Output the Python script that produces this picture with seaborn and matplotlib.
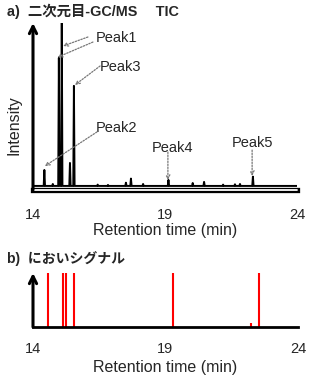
import matplotlib
matplotlib.use("Agg")
import matplotlib.pyplot as plt
import seaborn as sns
import pandas as pd

sns.set_theme(style="white")
plt.rcParams['font.family'] = ['Liberation Sans', 'Noto Sans CJK JP']

# ---- data ----
peak_times = [14.43, 14.75, 14.98, 15.09, 15.40, 15.55, 16.45, 16.84, 17.52, 17.71,
              18.17, 19.13, 20.05, 20.48, 21.20, 21.65, 21.84, 22.33]
peak_heights = [0.098, 0.012, 0.786, 1.0, 0.141, 0.614, 0.008, 0.006, 0.02, 0.045,
                0.012, 0.037, 0.018, 0.025, 0.008, 0.01, 0.012, 0.057]
odor_times = [14.58, 15.12, 15.23, 15.55, 19.29, 22.23, 22.53]
odor_strength = [1.0, 1.0, 1.0, 1.0, 1.0, 0.08, 1.0]
x_ticks = [14, 19, 24]
peak_names = ["Peak1", "Peak2", "Peak3", "Peak4", "Peak5"]

# build chromatogram trace from the peak list
half_w = 0.025
xs, ys = [14.0], [0.0]
for t, h in zip(peak_times, peak_heights):
    xs += [t - half_w, t, t + half_w]
    ys += [0.0, h, 0.0]
xs.append(24.0)
ys.append(0.0)
trace = pd.DataFrame({"time": xs, "intensity": ys})

W, H = 322, 380
fig = plt.figure(figsize=(W / 100, H / 100), dpi=100)

def px_axes(l, t, r, b):
    return fig.add_axes([l / W, 1 - b / H, (r - l) / W, (b - t) / H])

# ---- panel a ----
ax1 = px_axes(33, 23, 297, 190)
sns.lineplot(data=trace, x="time", y="intensity", ax=ax1, color="black",
             lw=1.4, sort=False, estimator=None)
ax1.set_xlim(14, 24)
ax1.set_ylim(-0.025, 1.0)
ax1.set_yticks([])
ax1.set_xticks(x_ticks)
ax1.set_xticklabels([str(t) for t in x_ticks], fontsize=10.5)
ax1.tick_params(axis="x", direction="in", length=3, width=1.5, pad=13, color="black")
ax1.set_xlabel("Retention time (min)", fontsize=11.5, labelpad=1)
ax1.set_ylabel("Intensity", fontsize=11.5)
ax1.yaxis.set_label_coords(-0.042, 0.39)
for s in ["top", "right", "left"]:
    ax1.spines[s].set_visible(False)
ax1.spines["bottom"].set_linewidth(3.8)
ax1.spines["bottom"].set_color("black")
ax1.axhline(-0.025, color="white", lw=1.3, zorder=3, clip_on=False)
ax1.annotate("", xy=(0, 1.0), xytext=(0, 0), xycoords="axes fraction",
             arrowprops=dict(arrowstyle="->", lw=2.2, color="black", mutation_scale=13,
                             shrinkA=0, shrinkB=0))

arr = dict(arrowstyle="->", linestyle=(0, (1.2, 1.2)), color="#777777", lw=0.9,
           shrinkA=0, shrinkB=0, mutation_scale=7)
# labels
ax1.text(17.18, 0.908, peak_names[0], fontsize=10.5, ha="center", va="center")
ax1.text(17.33, 0.73, peak_names[2], fontsize=10.5, ha="center", va="center")
ax1.text(17.18, 0.356, peak_names[1], fontsize=10.5, ha="center", va="center")
ax1.text(19.27, 0.233, peak_names[3], fontsize=10.5, ha="center", va="center")
ax1.text(22.30, 0.263, peak_names[4], fontsize=10.5, ha="center", va="center")
# arrows
ax1.annotate("", xy=(15.14, 0.859), xytext=(16.08, 0.914), arrowprops=arr)
ax1.annotate("", xy=(14.93, 0.79), xytext=(16.27, 0.883), arrowprops=arr)
ax1.annotate("", xy=(15.59, 0.62), xytext=(16.54, 0.736), arrowprops=arr)
ax1.annotate("", xy=(14.45, 0.122), xytext=(16.42, 0.331), arrowprops=arr)
ax1.annotate("", xy=(19.11, 0.036), xytext=(19.11, 0.208), arrowprops=arr)
ax1.annotate("", xy=(22.30, 0.061), xytext=(22.30, 0.22), arrowprops=arr)

fig.text(7 / W, 1 - 11 / H, "a)  二次元目-GC/MS　 TIC", fontsize=10.4,
         fontweight="bold", va="center", ha="left")

# ---- panel b ----
ax2 = px_axes(33, 273, 298, 327)
ax2.vlines(odor_times, 0, odor_strength, color="red", lw=1.5)
ax2.set_xlim(14, 24)
ax2.set_ylim(0, 1)
ax2.set_yticks([])
ax2.set_xticks(x_ticks)
ax2.set_xticklabels([str(t) for t in x_ticks], fontsize=10.5)
ax2.tick_params(axis="x", direction="in", length=4, width=2, pad=11, color="black")
ax2.set_xlabel("Retention time (min)", fontsize=11.5, labelpad=3)
for s in ["top", "right", "left"]:
    ax2.spines[s].set_visible(False)
ax2.spines["bottom"].set_linewidth(2)
ax2.spines["bottom"].set_color("black")
ax2.annotate("", xy=(0, 1.0), xytext=(0, 0), xycoords="axes fraction",
             arrowprops=dict(arrowstyle="->", lw=2.2, color="black", mutation_scale=13,
                             shrinkA=0, shrinkB=0))

fig.text(7 / W, 1 - 259 / H, "b)  においシグナル", fontsize=10,
         fontweight="bold", va="center", ha="left")

fig.savefig("out.png", dpi=100)
